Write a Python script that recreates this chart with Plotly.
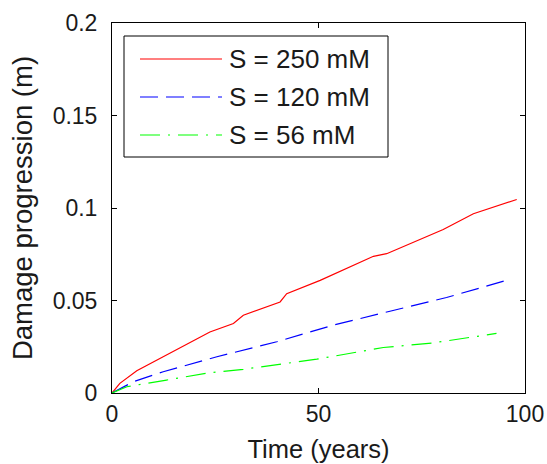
import plotly.graph_objects as go

# Data
t_250 = [0, 1.9, 6.0, 14.0, 23.7, 29.4, 31.8, 40.7, 42.3, 50.4, 63.3, 66.5, 80.2, 87.5, 98.0]
d_250 = [0, 0.0052, 0.0120, 0.0217, 0.0330, 0.0376, 0.0420, 0.0492, 0.0537, 0.0609, 0.0739, 0.0753, 0.0884, 0.0969, 0.1046]

t_120 = [0, 5.2, 12.4, 25.4, 39.9, 53.6, 67.3, 81.0, 94.9]
d_120 = [0, 0.0061, 0.0115, 0.0196, 0.0277, 0.0367, 0.0442, 0.0516, 0.0605]

t_56 = [0, 3.6, 13.2, 23.7, 31.8, 49.6, 65.7, 77.8, 93.1]
d_56 = [0, 0.0034, 0.0070, 0.0110, 0.0128, 0.0183, 0.0246, 0.0271, 0.0322]

labels = ["S = 250 mM", "S = 120 mM", "S = 56 mM"]
colors = ["#ff0000", "#0000ff", "#00ff00"]
dashes = ["solid", "18px,8px", "20px,8px,2px,8px"]

x_ticks = [0, 50, 100]
y_ticks = [0, 0.05, 0.1, 0.15, 0.2]
y_tick_text = ["0", "0.05", "0.1", "0.15", "0.2"]

FONT = "Liberation Sans, Arial, sans-serif"
FS_TICK = 23
FS_XTITLE = 25.5
FS_YTITLE = 27.5
FS_LEG = 26
TXT = "#1a1a1a"

fig = go.Figure()
for t, d, lab, c, ds in zip([t_250, t_120, t_56], [d_250, d_120, d_56], labels, colors, dashes):
    fig.add_trace(go.Scatter(x=t, y=d, mode="lines", name=lab,
                             line=dict(color=c, width=1.2, dash=ds), showlegend=False))

L, R, T, B = 112, 525, 23, 393          # plot area in window pixels
W, H = 547, 464                          # figure size
def px(x):
    return (x - L) / (R - L)
def py(y):
    return (B - y) / (B - T)

shapes = [dict(type="rect", xref="paper", yref="paper",
               x0=px(124), x1=px(388), y0=py(157), y1=py(36),
               line=dict(color="black", width=1), fillcolor="white", layer="above")]
annotations = []
rows = [59, 97, 135]
for r, lab, c, ds in zip(rows, labels, colors, dashes):
    shapes.append(dict(type="line", xref="paper", yref="paper",
                       x0=px(140), x1=px(222), y0=py(r), y1=py(r),
                       line=dict(color=c, width=1.2, dash=ds), layer="above"))
    annotations.append(dict(x=px(227), y=py(r), xref="paper", yref="paper",
                            text=lab, showarrow=False, xanchor="left", yanchor="middle",
                            font=dict(family=FONT, size=FS_LEG, color=TXT)))

axis_common = dict(showline=True, linecolor="black", linewidth=1, mirror="ticks",
                   ticks="inside", ticklen=5, tickcolor="black", showgrid=False,
                   zeroline=False, automargin=False,
                   tickfont=dict(family=FONT, size=FS_TICK, color=TXT))

fig.update_layout(
    width=W, height=H,
    margin=dict(l=L, r=W - R, t=T, b=H - B, pad=0),
    paper_bgcolor="white", plot_bgcolor="white",
    xaxis=dict(range=[0, 100], tickvals=x_ticks,
               title=dict(text="Time (years)", font=dict(family=FONT, size=FS_XTITLE, color=TXT), standoff=14),
               **axis_common),
    yaxis=dict(range=[0, 0.2], tickvals=y_ticks, ticktext=y_tick_text,
               title=dict(text="Damage progression (m)", font=dict(family=FONT, size=FS_YTITLE, color=TXT), standoff=12),
               ticklabelstandoff=9,
               **axis_common),
    shapes=shapes, annotations=annotations,
)

# remove the page's default body margin so the figure fills the window
fig.write_html("out.html", config={"displayModeBar": False},
               post_script="document.body.style.margin='0';document.body.style.overflow='hidden';")
